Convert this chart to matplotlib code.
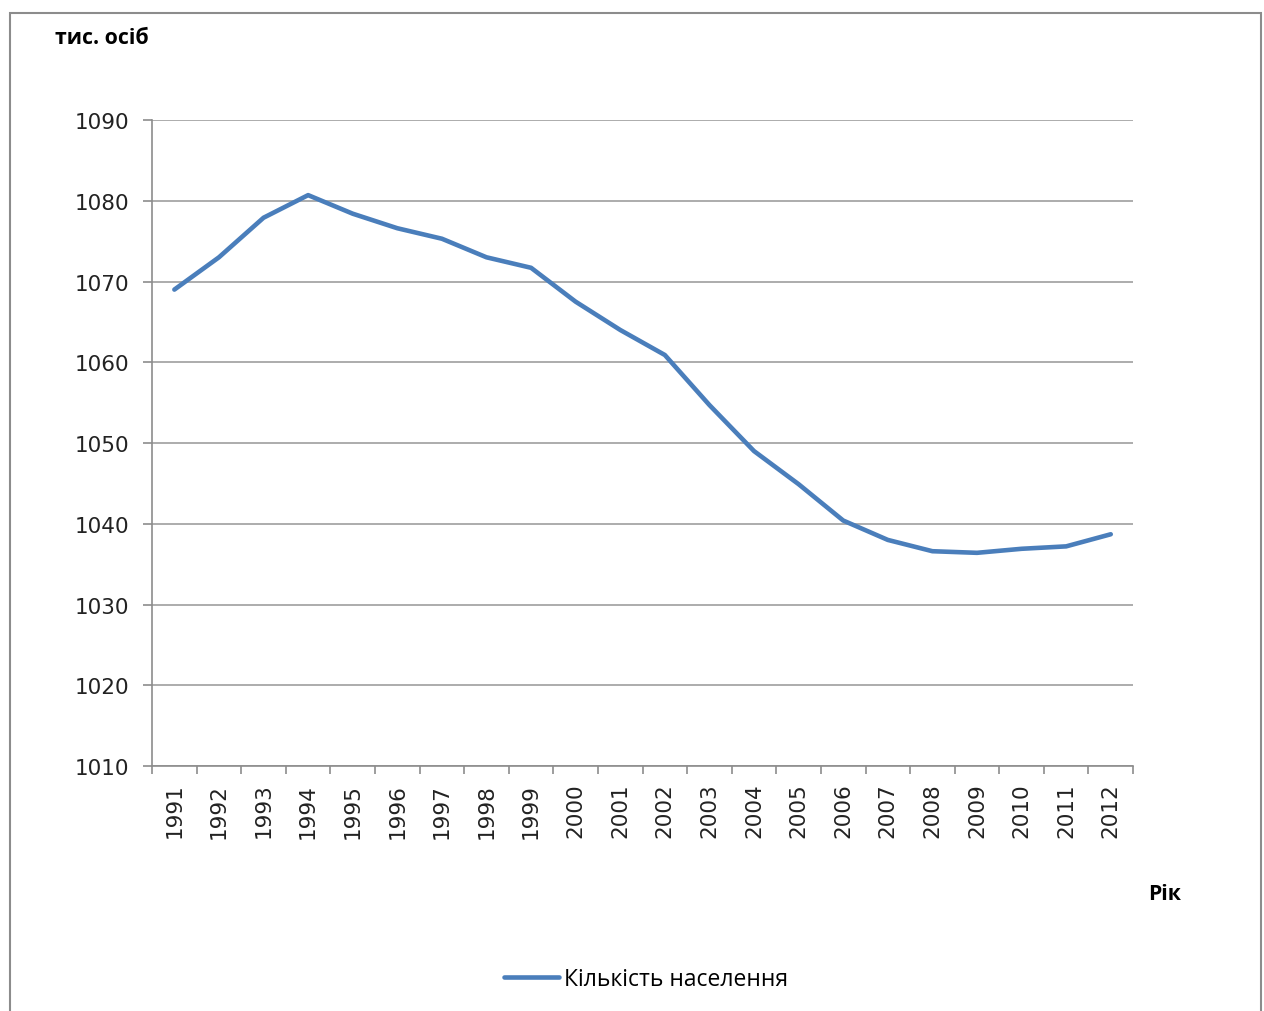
import matplotlib.pyplot as plt
from matplotlib.patches import Rectangle
import numpy as np

# чисельність населення, тис. осіб
years = [1991, 1992, 1993, 1994, 1995, 1996, 1997, 1998, 1999, 2000, 2001,
         2002, 2003, 2004, 2005, 2006, 2007, 2008, 2009, 2010, 2011, 2012]
population = [1069.0, 1073.0, 1077.9, 1080.7, 1078.4, 1076.6, 1075.3, 1073.0,
              1071.7, 1067.5, 1064.0, 1060.9, 1054.7, 1049.0, 1044.9, 1040.4,
              1038.0, 1036.6, 1036.4, 1036.9, 1037.2, 1038.7]
y_ticks = [1010, 1020, 1030, 1040, 1050, 1060, 1070, 1080, 1090]

plt.rcParams['font.family'] = ['Open Sans', 'DejaVu Sans']

fig = plt.figure(figsize=(12.64, 10.12), dpi=100)
ax = fig.add_axes([0.1203, 0.2421, 0.7761, 0.6383])

# рамка діаграми
fig.patches.append(Rectangle((10 / 1264, -0.05), 1251 / 1264, 1.05 - 14 / 1012,
                             transform=fig.transFigure, fill=False,
                             edgecolor='#8c8c8c', linewidth=1.5))

x = np.arange(len(years))
line, = ax.plot(x, population, color='#4a7ebb', linewidth=3.3,
                solid_capstyle='round', solid_joinstyle='round',
                label='Кількість населення')

ax.set_xlim(-0.5, len(years) - 0.5)
ax.set_ylim(1010, 1090)
ax.set_yticks(y_ticks)
ax.set_yticklabels([str(v) for v in y_ticks], family='DejaVu Sans',
                   fontsize=15.5, color='#222222')
ax.set_xticks(x)
ax.set_xticklabels([str(y) for y in years], rotation=90, family='DejaVu Sans',
                   fontsize=15.5, color='#222222')
ax.set_xticks(np.arange(len(years) + 1) - 0.5, minor=True)
ax.tick_params(axis='x', which='major', length=0, pad=12)
ax.tick_params(axis='x', which='minor', length=6, color='#8c8c8c', width=1.2)
ax.tick_params(axis='y', length=6.5, color='#8c8c8c', width=1.2, pad=10)

ax.grid(axis='y', color='#a6a6a6', linewidth=1.3)
ax.set_axisbelow(True)
for side in ['top', 'right']:
    ax.spines[side].set_visible(False)
for side in ['left', 'bottom']:
    ax.spines[side].set_color('#8c8c8c')
    ax.spines[side].set_linewidth(1.2)

fig.text(55 / 1264, 1 - 38 / 1012, 'тис. осіб', fontsize=15.3, fontweight='bold',
         ha='left', va='center')
fig.text(1148 / 1264, 1 - 895 / 1012, 'Рік', fontsize=15.3, fontweight='bold',
         ha='left', va='center')

fig.legend(handles=[line], loc='center', bbox_to_anchor=(646 / 1264, 1 - 980 / 1012),
           frameon=False, fontsize=16.5, handlelength=2.4, handletextpad=0.2)

fig.savefig('out.png', dpi=100, facecolor='white')
